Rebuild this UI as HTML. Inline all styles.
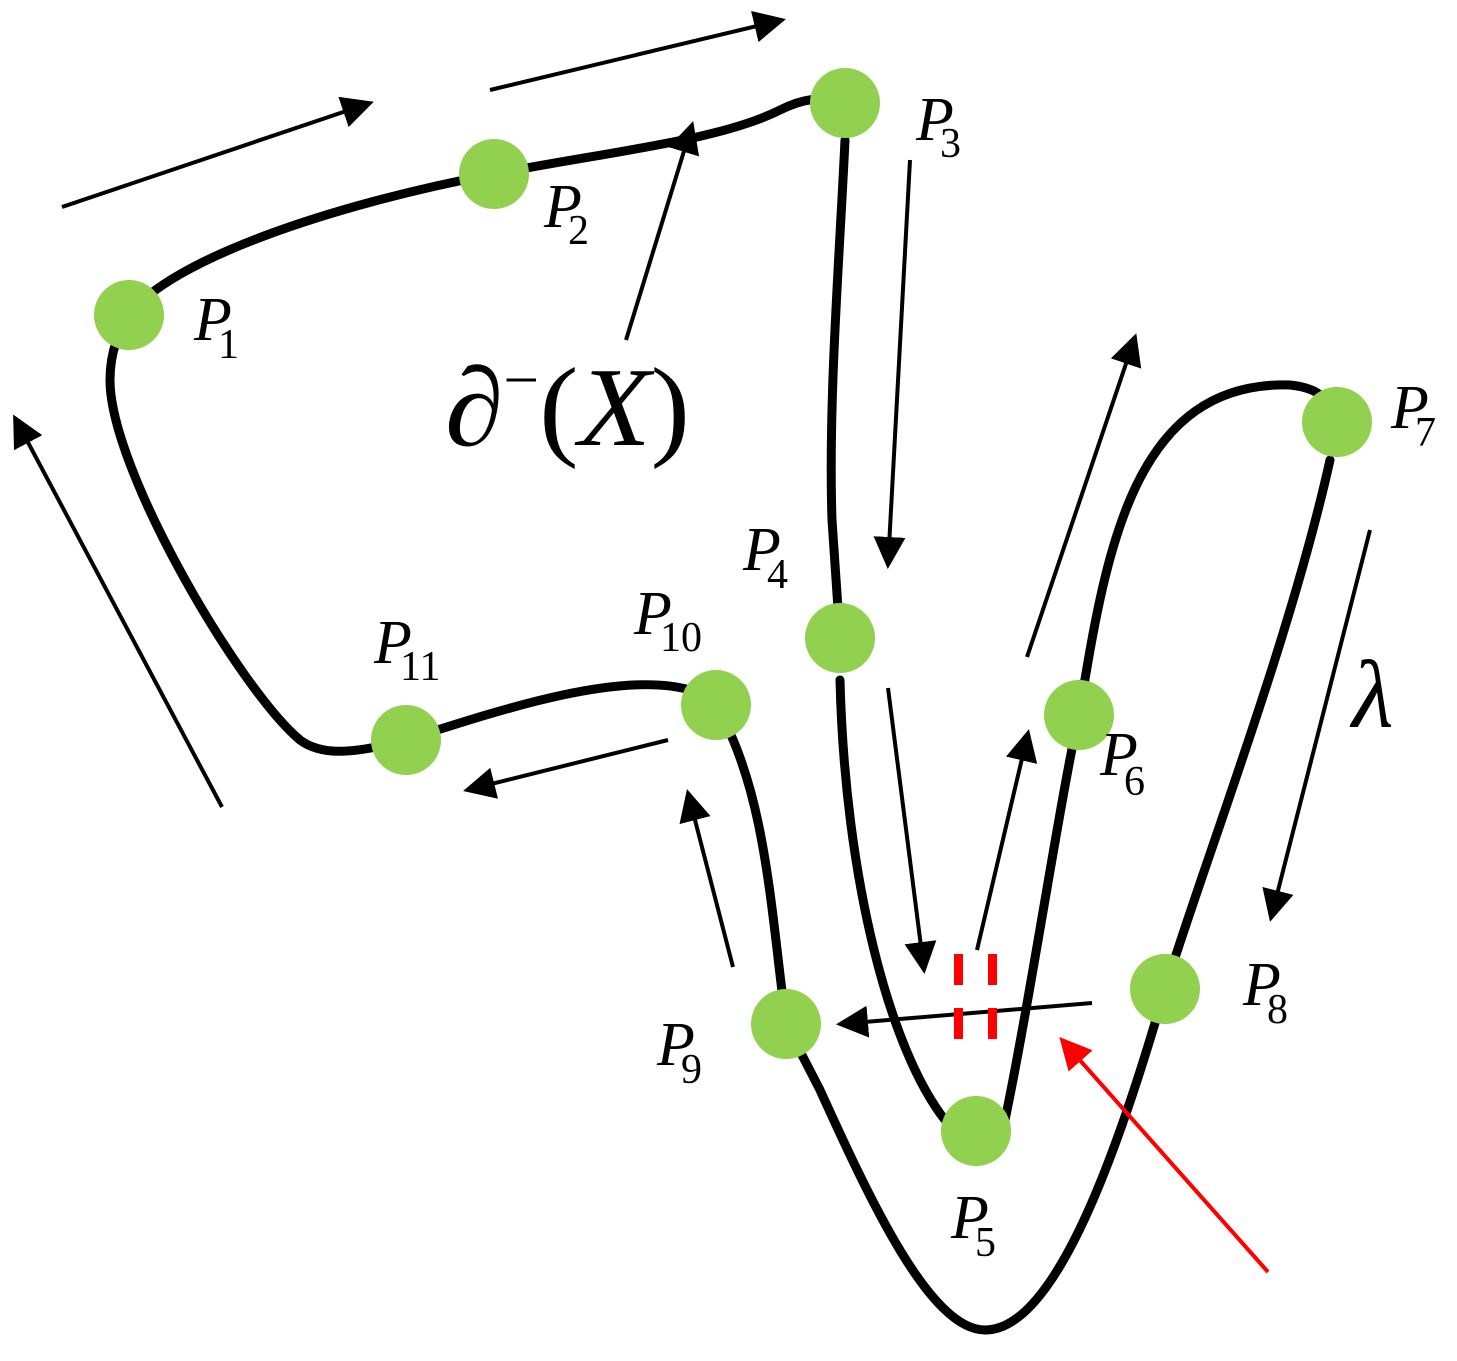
<!DOCTYPE html>
<html><head><meta charset="utf-8"><style>
html,body{margin:0;padding:0;background:#fff;}
svg{display:block;}
text{font-family:"Liberation Serif","Times New Roman",serif;fill:#000;}
.p{font-style:italic;font-size:62px;}
.s{font-size:42px;}
</style></head><body>
<svg width="1457" height="1361" viewBox="0 0 1457 1361">
<defs>
<marker id="ah" markerWidth="8" markerHeight="8" refX="7" refY="4" orient="auto" markerUnits="strokeWidth"><path d="M0,0 L8,4 L0,8 z" fill="#000"/></marker>
<marker id="ar" markerWidth="8" markerHeight="8" refX="7" refY="4" orient="auto" markerUnits="strokeWidth"><path d="M0,0 L8,4 L0,8 z" fill="#f00"/></marker>
</defs>
<path d="M129,315 C170,260 330,205 494,174 C620,150 720,140 780,110 C800,100 820,95 845,103
M845,140 C840,250 828,400 832,520 L840,638
M840,680 C845,880 890,1050 945,1120
M1005,1120 C1030,1000 1060,800 1079,715
M1079,715 C1105,560 1130,380 1290,385 C1320,388 1330,400 1337,422
M1330,460 C1290,640 1205,860 1165,989
M1165,989 C1110,1180 1050,1330 985,1330 C930,1330 870,1200 820,1090 L786,1024
M786,1024 C770,900 765,790 716,705
M690,690 C620,670 500,710 406,740
M406,740 C350,755 320,755 300,740 C240,690 110,470 110,380 C110,350 120,330 129,315" fill="none" stroke="#000" stroke-width="9" stroke-linecap="round"/>
<g stroke="#000" stroke-width="4" marker-end="url(#ah)">
<line x1="62" y1="207" x2="370" y2="103"/>
<line x1="490" y1="90" x2="782" y2="20"/>
<line x1="626" y1="340" x2="692" y2="125"/>
<line x1="910" y1="160" x2="888" y2="565"/>
<line x1="1027" y1="657" x2="1135" y2="337"/>
<line x1="1370" y1="530" x2="1271" y2="918"/>
<line x1="888" y1="688" x2="924" y2="970"/>
<line x1="977" y1="950" x2="1028" y2="733"/>
<line x1="1092" y1="1003" x2="840" y2="1024"/>
<line x1="733" y1="967" x2="688" y2="793"/>
<line x1="668" y1="740" x2="467" y2="790"/>
<line x1="222" y1="807" x2="15" y2="418"/>
</g>
<line x1="1268" y1="1272" x2="1062" y2="1040" stroke="#f00" stroke-width="4" marker-end="url(#ar)"/>
<g fill="#f00">
<rect x="954" y="954" width="9" height="31"/><rect x="988" y="954" width="9" height="31"/>
<rect x="954" y="1008" width="9" height="31"/><rect x="988" y="1008" width="9" height="31"/>
</g>
<g fill="#92d050">
<circle cx="129" cy="315" r="35"/><circle cx="494" cy="174" r="35"/><circle cx="845" cy="103" r="35"/>
<circle cx="840" cy="638" r="35"/><circle cx="976" cy="1131" r="35"/><circle cx="1079" cy="715" r="35"/>
<circle cx="1337" cy="422" r="35"/><circle cx="1165" cy="989" r="35"/><circle cx="786" cy="1024" r="35"/>
<circle cx="716" cy="705" r="35"/><circle cx="406" cy="740" r="35"/>
</g>
<text x="194" y="340" class="p">P</text><text x="218" y="358" class="s">1</text>
<text x="544" y="227" class="p">P</text><text x="568" y="244" class="s">2</text>
<text x="916" y="140" class="p">P</text><text x="940" y="157" class="s">3</text>
<text x="743" y="570" class="p">P</text><text x="767" y="588" class="s">4</text>
<text x="951" y="1238" class="p">P</text><text x="975" y="1256" class="s">5</text>
<text x="1100" y="775" class="p">P</text><text x="1124" y="795" class="s">6</text>
<text x="1391" y="428" class="p">P</text><text x="1415" y="446" class="s">7</text>
<text x="1243" y="1005" class="p">P</text><text x="1267" y="1023" class="s">8</text>
<text x="657" y="1065" class="p">P</text><text x="681" y="1083" class="s">9</text>
<text x="634" y="634" class="p">P</text><text x="660" y="651" class="s">10</text>
<text x="374" y="663" class="p">P</text><text x="400" y="680" class="s">11</text>
<text x="1352" y="727" style="font-style:italic;font-size:96px">λ</text>
<text x="445" y="445" style="font-size:112px" textLength="245" lengthAdjust="spacingAndGlyphs"><tspan font-style="italic">∂</tspan><tspan font-size="60" dy="-45">−</tspan><tspan dy="45">(</tspan><tspan font-style="italic">X</tspan>)</text>
</svg>
</body></html>
